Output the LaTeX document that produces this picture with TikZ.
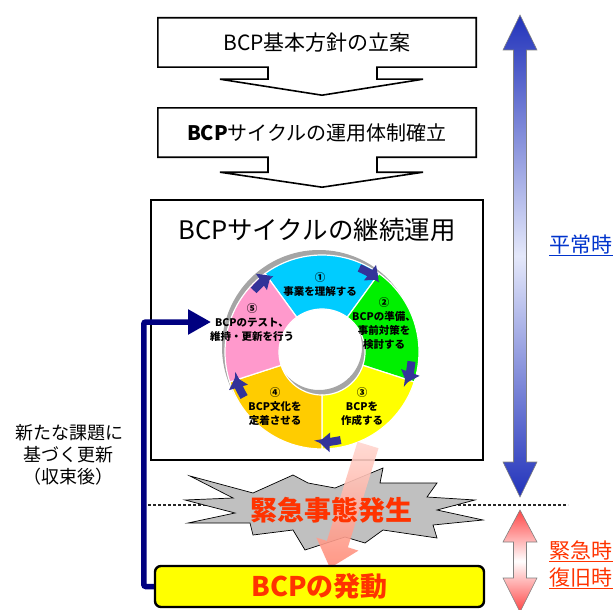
\documentclass[tikz,border=0pt]{standalone}
\usepackage{fontspec}
\setmainfont{Noto Sans CJK JP}
\usepackage{tikz}
\usetikzlibrary{positioning,calc,arrows.meta}
\definecolor{segcyan}{RGB}{0,204,255}
\definecolor{seggreen}{RGB}{0,240,0}
\definecolor{segyellow}{RGB}{255,255,0}
\definecolor{segorange}{RGB}{255,204,0}
\definecolor{segpink}{RGB}{255,153,204}
\definecolor{ringshade}{RGB}{165,165,165}
\definecolor{cyclenavy}{RGB}{51,51,153}
\definecolor{fbnavy}{RGB}{0,0,128}
\definecolor{alertred}{RGB}{255,51,0}
\definecolor{burstgray}{RGB}{192,192,192}
\definecolor{surgepink}{RGB}{255,140,120}
\definecolor{calmblue}{RGB}{34,51,187}
\definecolor{calmlight}{RGB}{228,232,250}
\definecolor{calmtext}{RGB}{0,51,204}
\definecolor{crisisred}{RGB}{255,70,70}

\begin{document}
\begin{tikzpicture}[x=1pt,y=-1pt,inner sep=0pt,
  flowbox/.style={minimum width=318pt,minimum height=49pt,font=\fontsize{21}{25}\selectfont},
  flowline/.style={draw,line width=1.6pt,line join=miter},
  segment/.style={draw=white,line width=1.2pt},
  segtext/.style={align=center,font=\fontsize{10.5}{14}\selectfont\bfseries},
  cyclehead/.style={line width=8pt,color=cyclenavy,-{Triangle[length=11pt,width=19pt]}},
  feedback/.style={draw=fbnavy,line width=5.5pt,rounded corners=2pt,-{Triangle[length=23pt,width=24pt]}},
  phaseline/.style={black!85,line width=2.5pt,dash pattern=on 3pt off 2pt},
  timelabel/.style={font=\fontsize{21}{25}\selectfont},
]
\useasboundingbox (0,0) rectangle (616,610);

\node[flowbox]                                        (plan)  at (317,42.5)  {BCP基本方針の立案};
\node[flowbox,font=\fontsize{20}{24}\selectfont]      (setup) at (317,132.5) {\textbf{BCP}サイクルの運用体制確立};
\draw[flowline] (plan.north west) -- (plan.north east) -- (plan.south east)
  -- ($(plan.south)+(60,0)$) -- ++(0,12) -- ++(46,0) -- ($(plan.south)+(5,28)$)
  -- ($(plan.south)+(-97,12)$) -- ++(48,0) -- ++(0,-12) -- (plan.south west) -- cycle;
\draw[flowline] (setup.north west) -- (setup.north east) -- (setup.south east)
  -- ($(setup.south)+(60,0)$) -- ++(0,15) -- ++(46,0) -- ($(setup.south)+(5,30)$)
  -- ($(setup.south)+(-97,15)$) -- ++(48,0) -- ++(0,-15) -- (setup.south west) -- cycle;

\node[draw,line width=2.4pt,minimum width=332pt,minimum height=260pt] (cyclebox) at (317,330) {};
\node[font=\fontsize{25.5}{29}\selectfont,below=19pt of cyclebox.north] (cycletitle) {BCPサイクルの継続運用};

%-ring-%
\coordinate (ringc) at (322,352);
\begin{scope}[shift={(ringc)},y=1pt]
  \fill[ringshade,even odd rule] (-3,5) circle[radius=97] (-3,5) circle[radius=43];
  \path[segment,fill=segcyan]   (126:97) arc[start angle=126,end angle=54,radius=97]   -- (54:43)   arc[start angle=54,end angle=126,radius=43]   -- cycle;
  \path[segment,fill=seggreen]  (54:97)  arc[start angle=54,end angle=-18,radius=97]   -- (-18:43)  arc[start angle=-18,end angle=54,radius=43]   -- cycle;
  \path[segment,fill=segyellow] (-18:97) arc[start angle=-18,end angle=-90,radius=97]  -- (-90:43)  arc[start angle=-90,end angle=-18,radius=43]  -- cycle;
  \path[segment,fill=segorange] (-90:97) arc[start angle=-90,end angle=-162,radius=97] -- (-162:43) arc[start angle=-162,end angle=-90,radius=43] -- cycle;
  \path[segment,fill=segpink]   (198:97) arc[start angle=198,end angle=126,radius=97]  -- (126:43)  arc[start angle=126,end angle=198,radius=43]  -- cycle;
  \draw[cyclehead] (138:92)  arc[start angle=138,end angle=124,radius=92];
  \draw[cyclehead] (66:92)   arc[start angle=66,end angle=52,radius=92];
  \draw[cyclehead] (-6:90)   arc[start angle=-6,end angle=-20,radius=90];
  \draw[cyclehead] (-78:90)  arc[start angle=-78,end angle=-92,radius=90];
  \draw[cyclehead] (-150:90) arc[start angle=-150,end angle=-164,radius=90];
\end{scope}
\node[segtext] (understand) at (320,285) {①\\事業を理解する};
\node[segtext] (prepare)    at (384,324) {②\\BCPの準備、\\事前対策を\\検討する};
\node[segtext] (write)      at (362,407) {③\\BCPを\\作成する};
\node[segtext] (embed)      at (275,407) {④\\BCP文化を\\定着させる};
\node[segtext] (exercise)   at (252,323) {⑤\\BCPのテスト、\\維持・更新を行う};

\coordinate (lineL) at (148,505);
\coordinate (lineR) at (568,505);
\draw[phaseline] (lineL) -- (lineR);

%-burst-%
\filldraw[fill=burstgray,draw=black,line width=0.7pt,line join=miter]
  (190,476) -- (253,493) -- (293,475) -- (308,483) -- (335,488) -- (383,468) -- (380,483)
  -- (437,483) -- (427,497) -- (475,500) -- (437,510) -- (483,520) -- (433,525) -- (437,538)
  -- (383,530) -- (365,543) -- (345,537) -- (305,550) -- (293,530) -- (253,535) -- (250,523)
  -- (188,523) -- (235,513) -- (185,500) -- (233,498) -- cycle;
\path[top color=surgepink!35,bottom color=surgepink,opacity=0.9]
  (378.5,448.2) -- (347.9,547.3) -- (358.4,550.6) -- (330,568) -- (316.4,537.6) -- (326.9,540.9) -- (357.5,441.8) -- cycle;
\node[font=\fontsize{27}{30}\selectfont\bfseries,text=alertred] (burst) at (331,510) {緊急事態発生};

\node[draw,line width=2.4pt,rounded corners=6pt,fill=segyellow,minimum width=329pt,minimum height=41pt,
      font=\fontsize{27}{30}\selectfont\bfseries,text=alertred] (fire) at (319.5,586.5) {BCPの発動};
\coordinate (fb) at (211,322);
\draw[feedback] (fire.west) -- ++(-10,0) |- (fb);
\node[font=\fontsize{18}{22}\selectfont,align=center] (renew) at (69,455) {新たな課題に\\基づく更新\\（収束後）};

%-time axis-%
\path[draw=gray,line width=0.6pt,top color=calmblue,bottom color=calmblue,middle color=calmlight]
  (520,15) -- (537,50) -- (526.5,50) -- (526.5,462) -- (537,462) -- (520,497)
  -- (503,462) -- (513.5,462) -- (513.5,50) -- (503,50) -- cycle;
\path[draw=gray,line width=0.6pt,top color=crisisred,bottom color=crisisred,middle color=white]
  (520,510) -- (537,542) -- (526.5,542) -- (526.5,578) -- (537,578) -- (520,612)
  -- (503,578) -- (513.5,578) -- (513.5,542) -- (503,542) -- cycle;
\node[timelabel,text=calmtext]                      (calm)    at (581,245) {平常時};
\node[timelabel,text=alertred]                      (crisis)  at (581,550) {緊急時};
\node[timelabel,text=alertred,below=8pt of crisis]  (restore)            {復旧時};
\draw[calmtext,line width=1pt] ($(calm.south west)+(0,1)$)    -- ($(calm.south east)+(0,1)$);
\draw[alertred,line width=1pt] ($(crisis.south west)+(0,2)$)  -- ($(crisis.south east)+(0,2)$);
\draw[alertred,line width=1pt] ($(restore.south west)+(0,1)$) -- ($(restore.south east)+(0,1)$);
\end{tikzpicture}
\end{document}
